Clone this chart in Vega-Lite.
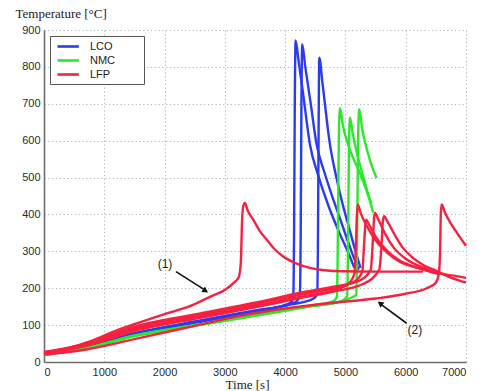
{
  "$schema": "https://vega.github.io/schema/vega-lite/v6.json",
  "width": 422,
  "height": 332,
  "autosize": {"type": "none"},
  "padding": {"left": 44, "top": 30, "right": 15, "bottom": 29},
  "background": "white",
  "config": {
    "view": {"stroke": null},
    "axis": {
      "labelFont": "Liberation Sans",
      "labelFontSize": 11,
      "labelColor": "#2a2a2a",
      "titleFont": "Liberation Serif",
      "titleFontSize": 13,
      "titleFontWeight": "normal",
      "titleColor": "#1a1a2a",
      "gridColor": "#a9b3bd",
      "gridDash": [1.2, 2.6],
      "gridWidth": 1,
      "domainColor": "#6e6e6e",
      "domainWidth": 1.6,
      "ticks": false
    }
  },
  "datasets": {
    "curves": [
      {"c":"B1","m":"LCO","t":0,"T":22},{"c":"B1","m":"LCO","t":700,"T":41},{"c":"B1","m":"LCO","t":1500,"T":78},{"c":"B1","m":"LCO","t":2500,"T":110},{"c":"B1","m":"LCO","t":3500,"T":140},{"c":"B1","m":"LCO","t":4000,"T":155},{"c":"B1","m":"LCO","t":4100,"T":162},{"c":"B1","m":"LCO","t":4135,"T":180},{"c":"B1","m":"LCO","t":4148,"T":350},{"c":"B1","m":"LCO","t":4160,"T":700},{"c":"B1","m":"LCO","t":4174,"T":872},{"c":"B1","m":"LCO","t":4220,"T":820},{"c":"B1","m":"LCO","t":4300,"T":725},{"c":"B1","m":"LCO","t":4411,"T":590},{"c":"B1","m":"LCO","t":4550,"T":505},{"c":"B1","m":"LCO","t":4715,"T":425},{"c":"B1","m":"LCO","t":4900,"T":350},{"c":"B1","m":"LCO","t":5050,"T":295},{"c":"B1","m":"LCO","t":5150,"T":255},
      {"c":"B2","m":"LCO","t":0,"T":21},{"c":"B2","m":"LCO","t":700,"T":40},{"c":"B2","m":"LCO","t":1500,"T":76},{"c":"B2","m":"LCO","t":2500,"T":108},{"c":"B2","m":"LCO","t":3500,"T":138},{"c":"B2","m":"LCO","t":4100,"T":158},{"c":"B2","m":"LCO","t":4200,"T":166},{"c":"B2","m":"LCO","t":4245,"T":185},{"c":"B2","m":"LCO","t":4258,"T":350},{"c":"B2","m":"LCO","t":4270,"T":700},{"c":"B2","m":"LCO","t":4284,"T":861},{"c":"B2","m":"LCO","t":4330,"T":805},{"c":"B2","m":"LCO","t":4420,"T":705},{"c":"B2","m":"LCO","t":4522,"T":590},{"c":"B2","m":"LCO","t":4650,"T":515},{"c":"B2","m":"LCO","t":4800,"T":440},{"c":"B2","m":"LCO","t":4950,"T":370},{"c":"B2","m":"LCO","t":5100,"T":300},{"c":"B2","m":"LCO","t":5220,"T":250},
      {"c":"B3","m":"LCO","t":0,"T":20},{"c":"B3","m":"LCO","t":700,"T":39},{"c":"B3","m":"LCO","t":1500,"T":75},{"c":"B3","m":"LCO","t":2500,"T":106},{"c":"B3","m":"LCO","t":3500,"T":136},{"c":"B3","m":"LCO","t":4100,"T":156},{"c":"B3","m":"LCO","t":4450,"T":170},{"c":"B3","m":"LCO","t":4530,"T":182},{"c":"B3","m":"LCO","t":4543,"T":300},{"c":"B3","m":"LCO","t":4554,"T":600},{"c":"B3","m":"LCO","t":4566,"T":825},{"c":"B3","m":"LCO","t":4620,"T":755},{"c":"B3","m":"LCO","t":4743,"T":590},{"c":"B3","m":"LCO","t":4850,"T":500},{"c":"B3","m":"LCO","t":4950,"T":430},{"c":"B3","m":"LCO","t":5050,"T":370},{"c":"B3","m":"LCO","t":5150,"T":310},{"c":"B3","m":"LCO","t":5250,"T":255},
      {"c":"G1","m":"NMC","t":0,"T":20},{"c":"G1","m":"NMC","t":700,"T":38},{"c":"G1","m":"NMC","t":1500,"T":72},{"c":"G1","m":"NMC","t":2500,"T":100},{"c":"G1","m":"NMC","t":3500,"T":127},{"c":"G1","m":"NMC","t":4400,"T":152},{"c":"G1","m":"NMC","t":4800,"T":165},{"c":"G1","m":"NMC","t":4860,"T":178},{"c":"G1","m":"NMC","t":4872,"T":300},{"c":"G1","m":"NMC","t":4890,"T":600},{"c":"G1","m":"NMC","t":4909,"T":688},{"c":"G1","m":"NMC","t":4960,"T":640},{"c":"G1","m":"NMC","t":5075,"T":575},{"c":"G1","m":"NMC","t":5240,"T":512},{"c":"G1","m":"NMC","t":5400,"T":440},{"c":"G1","m":"NMC","t":5460,"T":405},
      {"c":"G2","m":"NMC","t":0,"T":19},{"c":"G2","m":"NMC","t":700,"T":37},{"c":"G2","m":"NMC","t":1500,"T":70},{"c":"G2","m":"NMC","t":2500,"T":98},{"c":"G2","m":"NMC","t":3500,"T":125},{"c":"G2","m":"NMC","t":4400,"T":150},{"c":"G2","m":"NMC","t":4900,"T":163},{"c":"G2","m":"NMC","t":5030,"T":178},{"c":"G2","m":"NMC","t":5042,"T":300},{"c":"G2","m":"NMC","t":5060,"T":600},{"c":"G2","m":"NMC","t":5075,"T":662},{"c":"G2","m":"NMC","t":5120,"T":620},{"c":"G2","m":"NMC","t":5200,"T":560},{"c":"G2","m":"NMC","t":5300,"T":500},{"c":"G2","m":"NMC","t":5378,"T":455},{"c":"G2","m":"NMC","t":5430,"T":430},
      {"c":"G3","m":"NMC","t":0,"T":19},{"c":"G3","m":"NMC","t":700,"T":37},{"c":"G3","m":"NMC","t":1500,"T":71},{"c":"G3","m":"NMC","t":2500,"T":99},{"c":"G3","m":"NMC","t":3500,"T":126},{"c":"G3","m":"NMC","t":4400,"T":151},{"c":"G3","m":"NMC","t":4950,"T":166},{"c":"G3","m":"NMC","t":5180,"T":182},{"c":"G3","m":"NMC","t":5192,"T":300},{"c":"G3","m":"NMC","t":5210,"T":600},{"c":"G3","m":"NMC","t":5229,"T":685},{"c":"G3","m":"NMC","t":5280,"T":630},{"c":"G3","m":"NMC","t":5350,"T":580},{"c":"G3","m":"NMC","t":5420,"T":540},{"c":"G3","m":"NMC","t":5517,"T":499},
      {"c":"R1","m":"LFP","t":0,"T":26},{"c":"R1","m":"LFP","t":400,"T":38},{"c":"R1","m":"LFP","t":800,"T":58},{"c":"R1","m":"LFP","t":1200,"T":85},{"c":"R1","m":"LFP","t":1600,"T":108},{"c":"R1","m":"LFP","t":2000,"T":130},{"c":"R1","m":"LFP","t":2400,"T":150},{"c":"R1","m":"LFP","t":2800,"T":180},{"c":"R1","m":"LFP","t":3000,"T":195},{"c":"R1","m":"LFP","t":3150,"T":215},{"c":"R1","m":"LFP","t":3230,"T":230},{"c":"R1","m":"LFP","t":3265,"T":270},{"c":"R1","m":"LFP","t":3285,"T":380},{"c":"R1","m":"LFP","t":3305,"T":422},{"c":"R1","m":"LFP","t":3333,"T":431},{"c":"R1","m":"LFP","t":3380,"T":410},{"c":"R1","m":"LFP","t":3471,"T":386},{"c":"R1","m":"LFP","t":3580,"T":355},{"c":"R1","m":"LFP","t":3693,"T":332},{"c":"R1","m":"LFP","t":3830,"T":305},{"c":"R1","m":"LFP","t":3969,"T":286},{"c":"R1","m":"LFP","t":4200,"T":266},{"c":"R1","m":"LFP","t":4411,"T":255},{"c":"R1","m":"LFP","t":4700,"T":248},{"c":"R1","m":"LFP","t":5000,"T":246},{"c":"R1","m":"LFP","t":5500,"T":245},{"c":"R1","m":"LFP","t":6000,"T":245},{"c":"R1","m":"LFP","t":6290,"T":245},
      {"c":"R2","m":"LFP","t":0,"T":20},{"c":"R2","m":"LFP","t":700,"T":34},{"c":"R2","m":"LFP","t":1500,"T":62},{"c":"R2","m":"LFP","t":2500,"T":98},{"c":"R2","m":"LFP","t":3250,"T":125},{"c":"R2","m":"LFP","t":4000,"T":145},{"c":"R2","m":"LFP","t":4750,"T":160},{"c":"R2","m":"LFP","t":5500,"T":172},{"c":"R2","m":"LFP","t":6000,"T":185},{"c":"R2","m":"LFP","t":6350,"T":200},{"c":"R2","m":"LFP","t":6500,"T":215},{"c":"R2","m":"LFP","t":6550,"T":240},{"c":"R2","m":"LFP","t":6570,"T":300},{"c":"R2","m":"LFP","t":6582,"T":400},{"c":"R2","m":"LFP","t":6595,"T":427},{"c":"R2","m":"LFP","t":6650,"T":405},{"c":"R2","m":"LFP","t":6750,"T":375},{"c":"R2","m":"LFP","t":6850,"T":350},{"c":"R2","m":"LFP","t":7000,"T":315},
      {"c":"R3","m":"LFP","t":0,"T":24},{"c":"R3","m":"LFP","t":700,"T":46},{"c":"R3","m":"LFP","t":1500,"T":88},{"c":"R3","m":"LFP","t":2500,"T":120},{"c":"R3","m":"LFP","t":3500,"T":152},{"c":"R3","m":"LFP","t":4300,"T":178},{"c":"R3","m":"LFP","t":4800,"T":195},{"c":"R3","m":"LFP","t":5050,"T":212},{"c":"R3","m":"LFP","t":5150,"T":240},{"c":"R3","m":"LFP","t":5175,"T":320},{"c":"R3","m":"LFP","t":5190,"T":400},{"c":"R3","m":"LFP","t":5205,"T":427},{"c":"R3","m":"LFP","t":5250,"T":405},{"c":"R3","m":"LFP","t":5350,"T":370},{"c":"R3","m":"LFP","t":5500,"T":330},{"c":"R3","m":"LFP","t":5700,"T":295},{"c":"R3","m":"LFP","t":5900,"T":272},{"c":"R3","m":"LFP","t":6200,"T":255},{"c":"R3","m":"LFP","t":6500,"T":242},{"c":"R3","m":"LFP","t":6800,"T":234},{"c":"R3","m":"LFP","t":7000,"T":228},
      {"c":"R4","m":"LFP","t":0,"T":25},{"c":"R4","m":"LFP","t":700,"T":48},{"c":"R4","m":"LFP","t":1500,"T":92},{"c":"R4","m":"LFP","t":2500,"T":125},{"c":"R4","m":"LFP","t":3500,"T":157},{"c":"R4","m":"LFP","t":4300,"T":184},{"c":"R4","m":"LFP","t":4800,"T":200},{"c":"R4","m":"LFP","t":5150,"T":218},{"c":"R4","m":"LFP","t":5280,"T":245},{"c":"R4","m":"LFP","t":5310,"T":320},{"c":"R4","m":"LFP","t":5340,"T":386},{"c":"R4","m":"LFP","t":5400,"T":370},{"c":"R4","m":"LFP","t":5500,"T":340},{"c":"R4","m":"LFP","t":5700,"T":300},{"c":"R4","m":"LFP","t":5900,"T":275},{"c":"R4","m":"LFP","t":6200,"T":255},{"c":"R4","m":"LFP","t":6550,"T":238},
      {"c":"R5","m":"LFP","t":0,"T":27},{"c":"R5","m":"LFP","t":700,"T":50},{"c":"R5","m":"LFP","t":1500,"T":96},{"c":"R5","m":"LFP","t":2500,"T":129},{"c":"R5","m":"LFP","t":3500,"T":161},{"c":"R5","m":"LFP","t":4300,"T":189},{"c":"R5","m":"LFP","t":4800,"T":204},{"c":"R5","m":"LFP","t":5250,"T":222},{"c":"R5","m":"LFP","t":5420,"T":250},{"c":"R5","m":"LFP","t":5455,"T":330},{"c":"R5","m":"LFP","t":5475,"T":390},{"c":"R5","m":"LFP","t":5489,"T":404},{"c":"R5","m":"LFP","t":5550,"T":385},{"c":"R5","m":"LFP","t":5650,"T":350},{"c":"R5","m":"LFP","t":5800,"T":310},{"c":"R5","m":"LFP","t":6000,"T":280},{"c":"R5","m":"LFP","t":6300,"T":255},{"c":"R5","m":"LFP","t":6550,"T":240},
      {"c":"R6","m":"LFP","t":0,"T":23},{"c":"R6","m":"LFP","t":700,"T":44},{"c":"R6","m":"LFP","t":1500,"T":84},{"c":"R6","m":"LFP","t":2500,"T":117},{"c":"R6","m":"LFP","t":3500,"T":148},{"c":"R6","m":"LFP","t":4300,"T":175},{"c":"R6","m":"LFP","t":4800,"T":191},{"c":"R6","m":"LFP","t":5300,"T":212},{"c":"R6","m":"LFP","t":5560,"T":250},{"c":"R6","m":"LFP","t":5600,"T":320},{"c":"R6","m":"LFP","t":5620,"T":380},{"c":"R6","m":"LFP","t":5640,"T":395},{"c":"R6","m":"LFP","t":5700,"T":380},{"c":"R6","m":"LFP","t":5800,"T":350},{"c":"R6","m":"LFP","t":5950,"T":310},{"c":"R6","m":"LFP","t":6100,"T":285},{"c":"R6","m":"LFP","t":6300,"T":262},{"c":"R6","m":"LFP","t":6500,"T":248},{"c":"R6","m":"LFP","t":6700,"T":232},{"c":"R6","m":"LFP","t":7000,"T":215}
    ],
    "labels": [
      {"label":"(1)","t":2007,"T":266},
      {"label":"(2)","t":6153,"T":87}
    ],
    "arrows": [
      {"a":"1","t":2189,"T":245,"t2":2660,"T2":196},
      {"a":"2","t":6015,"T":105,"t2":5590,"T2":156}
    ],
    "heads": [
      {"a":"1","t":2680,"T":193},
      {"a":"2","t":5575,"T":159}
    ]
  },
  "encoding": {
    "x": {"field":"t","type":"quantitative","scale":{"domain":[0,7000],"nice":false,"zero":false},
      "axis":{"title":"Time [s]","values":[0,1000,2000,3000,4000,5000,6000,7000],"format":"d","labelPadding":4,"titleY":26,"titleBaseline":"alphabetic","titleX":203,"titleAnchor":"middle"}},
    "y": {"field":"T","type":"quantitative","scale":{"domain":[0,900],"nice":false,"zero":false},
      "axis":{"title":"Temperature [°C]","values":[0,100,200,300,400,500,600,700,800,900],"labelPadding":4,"titleAngle":0,"titleAlign":"left","titleX":-29,"titleY":-13,"titleBaseline":"alphabetic"}}
  },
  "layer": [
    {
      "data": {"name":"curves"},
      "transform": [{"filter":"datum.m === 'LCO'"}],
      "mark": {"type":"line","strokeWidth":2.4,"interpolate":"monotone"},
      "encoding": {
        "color": {"field":"m","type":"nominal","scale":{"domain":["LCO","NMC","LFP"],"range":["#2a3cf2","#2be82b","#f8203f"]},
          "legend":{"title":null,"orient":"none","legendX":6,"legendY":6,"symbolType":"M-0.6,0H3.67","symbolSize":100,"symbolStrokeWidth":2.6,"labelFont":"Liberation Sans","labelFontSize":11,"labelColor":"#222","labelOffset":23,"labelExpr":"datum.label + '\u2800\u2800\u2800'","fillColor":"white","strokeColor":"#555","padding":4,"rowPadding":2}},
        "detail": {"field":"c","type":"nominal"}
      }
    },
    {
      "data": {"name":"curves"},
      "transform": [{"filter":"datum.m === 'NMC'"}],
      "mark": {"type":"line","strokeWidth":2.4,"interpolate":"monotone"},
      "encoding": {
        "color": {"field":"m","type":"nominal"},
        "detail": {"field":"c","type":"nominal"}
      }
    },
    {
      "data": {"name":"curves"},
      "transform": [{"filter":"datum.m === 'LFP'"}],
      "mark": {"type":"line","strokeWidth":2.4,"interpolate":"monotone"},
      "encoding": {
        "color": {"field":"m","type":"nominal"},
        "detail": {"field":"c","type":"nominal"}
      }
    },
    {
      "data": {"name":"arrows"},
      "mark": {"type":"rule","color":"#111","strokeWidth":1.6},
      "encoding": {
        "x2": {"field":"t2"},
        "y2": {"field":"T2"}
      }
    },
    {
      "data": {"name":"heads"},
      "transform": [{"filter":"datum.a === '1'"}],
      "mark": {"type":"point","shape":"triangle-up","filled":true,"color":"#111","size":45,"angle":123,"opacity":1},
      "encoding": {}
    },
    {
      "data": {"name":"heads"},
      "transform": [{"filter":"datum.a === '2'"}],
      "mark": {"type":"point","shape":"triangle-up","filled":true,"color":"#111","size":45,"angle":307,"opacity":1},
      "encoding": {}
    },
    {
      "data": {"name":"labels"},
      "mark": {"type":"text","font":"Liberation Sans","fontSize":12,"color":"#222"},
      "encoding": {"text": {"field":"label"}}
    }
  ]
}
